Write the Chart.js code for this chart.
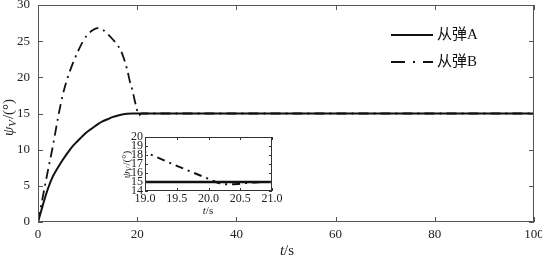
<!DOCTYPE html>
<html>
<head>
<meta charset="utf-8">
<script src="https://cdn.jsdelivr.net/npm/chart.js@4.4.0/dist/chart.umd.min.js"></script>
<style>
  body { margin: 0; background: #fff; }
  #wrap { position: relative; width: 542px; height: 257px; }
  #main { position: absolute; left: 0; top: 0; }
  #inset { position: absolute; left: 100px; top: 125px; }
</style>
</head>
<body>
<div id="wrap">
  <canvas id="main" width="542" height="257"></canvas>
  <canvas id="inset" width="185" height="95"></canvas>
</div>
<script>
// data
const seriesNames = ['从弹A', '从弹B'];
const tA = [0, 0.5, 1, 2, 3, 4, 5, 6, 7, 8, 9, 10, 11, 12, 13, 14, 15, 16, 17, 18, 19, 20, 21, 25, 30, 40, 50, 60, 70, 80, 90, 100];
const valA = [0, 1.2, 2.4, 4.6, 6.3, 7.5, 8.6, 9.6, 10.5, 11.2, 11.9, 12.5, 13.0, 13.5, 13.9, 14.2, 14.5, 14.7, 14.85, 14.95, 15.0, 15.0, 15.0, 15, 15, 15, 15, 15, 15, 15, 15, 15];
const tB = [0, 1, 2, 3, 4, 5, 6, 7, 8, 9, 10, 11, 12, 13, 14, 15, 16, 17, 18, 18.6, 19, 19.5, 20, 20.15, 20.3, 20.45, 20.6, 20.8, 21, 25, 30, 40, 50, 60, 70, 80, 90, 100];
const valB = [0, 3.6, 7.1, 10.5, 14.3, 17.6, 20.0, 21.9, 23.5, 24.9, 25.9, 26.5, 26.8, 26.6, 26.0, 25.3, 24.5, 23.2, 21.0, 19.2, 18.3, 16.8, 15.35, 14.9, 14.75, 14.78, 14.9, 14.97, 15.0, 15, 15, 15, 15, 15, 15, 15, 15, 15];
const xTicksMain = [0, 20, 40, 60, 80, 100];
const yTicksMain = [0, 5, 10, 15, 20, 25, 30];
const xTicksInset = [19.0, 19.5, 20.0, 20.5, 21.0];
const yTicksInset = [14, 15, 16, 17, 18, 19, 20];

const serif = "'Liberation Serif', 'DejaVu Serif', serif";
const mixed = "'Liberation Serif', 'Noto Sans CJK SC', serif";
const pts = (ts, vs) => ts.map((t, i) => ({ x: t, y: vs[i] }));

// box + inward ticks on all four sides
const frame = {
  id: 'frame',
  afterDatasetsDraw(chart, args, o) {
    const { ctx, chartArea: a, scales: { x, y } } = chart;
    ctx.save();
    ctx.strokeStyle = o.color;
    ctx.lineWidth = 1;
    ctx.strokeRect(a.left + 0.5, a.top + 0.5, a.right - a.left - 1, a.bottom - a.top - 1);
    ctx.beginPath();
    x.ticks.forEach(t => {
      const px = Math.round(x.getPixelForValue(t.value)) + 0.5;
      ctx.moveTo(px, a.bottom); ctx.lineTo(px, a.bottom - o.len);
      ctx.moveTo(px, a.top); ctx.lineTo(px, a.top + o.len);
    });
    y.ticks.forEach(t => {
      const py = Math.round(y.getPixelForValue(t.value)) + 0.5;
      ctx.moveTo(a.left, py); ctx.lineTo(a.left + o.len, py);
      ctx.moveTo(a.right, py); ctx.lineTo(a.right - o.len, py);
    });
    ctx.stroke();
    ctx.restore();
  }
};

// axis titles with italic symbol and subscript
const titles = {
  id: 'titles',
  afterDraw(chart, args, o) {
    const ctx = chart.ctx;
    const s = o.size;
    ctx.save();
    ctx.fillStyle = '#222';
    ctx.textBaseline = 'middle';
    // x title: t/s
    ctx.font = 'italic ' + s + 'px ' + serif;
    const w1 = ctx.measureText('t').width;
    ctx.font = s + 'px ' + serif;
    const w2 = ctx.measureText('/s').width;
    let x0 = o.xx - (w1 + w2) / 2;
    ctx.font = 'italic ' + s + 'px ' + serif;
    ctx.fillText('t', x0, o.xy);
    ctx.font = s + 'px ' + serif;
    ctx.fillText('/s', x0 + w1, o.xy);
    // y title: psi_V/(°)
    ctx.translate(o.yx, o.yy);
    ctx.rotate(-Math.PI / 2);
    const sub = Math.round(s * 0.7);
    ctx.font = 'italic ' + s + 'px ' + serif;
    const a1 = ctx.measureText('ψ').width;
    ctx.font = 'italic ' + sub + 'px ' + serif;
    const a2 = ctx.measureText('V').width;
    ctx.font = s + 'px ' + serif;
    const a3 = ctx.measureText('/(°)').width;
    let p = -(a1 + a2 + a3) / 2;
    ctx.font = 'italic ' + s + 'px ' + serif;
    ctx.fillText('ψ', p, 0);
    ctx.font = 'italic ' + sub + 'px ' + serif;
    ctx.fillText('V', p + a1, s * 0.25);
    ctx.font = s + 'px ' + serif;
    ctx.fillText('/(°)', p + a1 + a2 + 1, 0);
    ctx.restore();
  }
};

// legend at upper right
const legendBox = {
  id: 'legendBox',
  afterDraw(chart) {
    const ctx = chart.ctx;
    ctx.save();
    ctx.font = '15px ' + mixed;
    ctx.textBaseline = 'middle';
    ctx.fillStyle = '#111';
    chart.data.datasets.forEach((ds, i) => {
      const y = 35 + i * 27;
      ctx.strokeStyle = ds.borderColor;
      ctx.lineWidth = ds.borderWidth;
      ctx.setLineDash(i ? [14, 8, 2, 8] : []);
      ctx.beginPath();
      ctx.moveTo(391, y); ctx.lineTo(433, y);
      ctx.stroke();
      ctx.setLineDash([]);
      ctx.fillText(ds.label, 437, y);
    });
    ctx.restore();
  }
};

function makeDatasets(wA, wB, dashB) {
  return [
    { label: seriesNames[0], data: pts(tA, valA), borderColor: '#111', borderWidth: wA,
      pointRadius: 0, cubicInterpolationMode: 'monotone' },
    { label: seriesNames[1], data: pts(tB, valB), borderColor: '#111', borderWidth: wB,
      borderDash: dashB, pointRadius: 0, cubicInterpolationMode: 'monotone' }
  ];
}

function axes(xmin, xmax, xt, ymin, ymax, yt, fs, xh, yw, xpad, ypad, fmt) {
  return {
    x: {
      type: 'linear', min: xmin, max: xmax,
      afterBuildTicks: s => { s.ticks = xt.map(v => ({ value: v })); },
      afterFit: s => { s.height = xh; s.paddingLeft = 0; s.paddingRight = 0; },
      grid: { display: false, drawTicks: false },
      border: { display: false },
      ticks: { padding: xpad, color: '#222', font: { family: serif, size: fs },
               maxRotation: 0, autoSkip: false, callback: fmt }
    },
    y: {
      min: ymin, max: ymax,
      afterBuildTicks: s => { s.ticks = yt.map(v => ({ value: v })); },
      afterFit: s => { s.width = yw; s.paddingTop = 0; s.paddingBottom = 0; },
      grid: { display: false, drawTicks: false },
      border: { display: false },
      ticks: { padding: ypad, color: '#222', autoSkip: false, font: { family: serif, size: fs } }
    }
  };
}

new Chart(document.getElementById('main'), {
  type: 'line',
  data: { datasets: makeDatasets(2, 1.8, [10, 5, 2, 5]) },
  options: {
    responsive: false, animation: false,
    layout: { padding: { top: 5, right: 8, left: 0, bottom: 0 } },
    scales: axes(0, 100, xTicksMain, 0, 30, yTicksMain, 13, 35, 38, 5, 8, v => v),
    plugins: {
      legend: { display: false }, tooltip: { enabled: false },
      frame: { color: '#555', len: 5 },
      titles: { size: 15, xx: 287, xy: 251, yx: 9, yy: 118 }
    }
  },
  plugins: [frame, titles, legendBox]
});

new Chart(document.getElementById('inset'), {
  type: 'line',
  data: { datasets: makeDatasets(2.5, 2, [8, 5, 2, 5]) },
  options: {
    responsive: false, animation: false,
    layout: { padding: { top: 12, right: 13, left: 0, bottom: 0 } },
    scales: axes(19, 21, xTicksInset, 14, 20, yTicksInset, 12, 29, 45, 1, 2, v => Number(v).toFixed(1)),
    plugins: {
      legend: { display: false }, tooltip: { enabled: false },
      frame: { color: '#333', len: 3 },
      titles: { size: 11, xx: 108, xy: 86, yx: 27, yy: 40 }
    }
  },
  plugins: [frame, titles]
});
</script>
</body>
</html>
